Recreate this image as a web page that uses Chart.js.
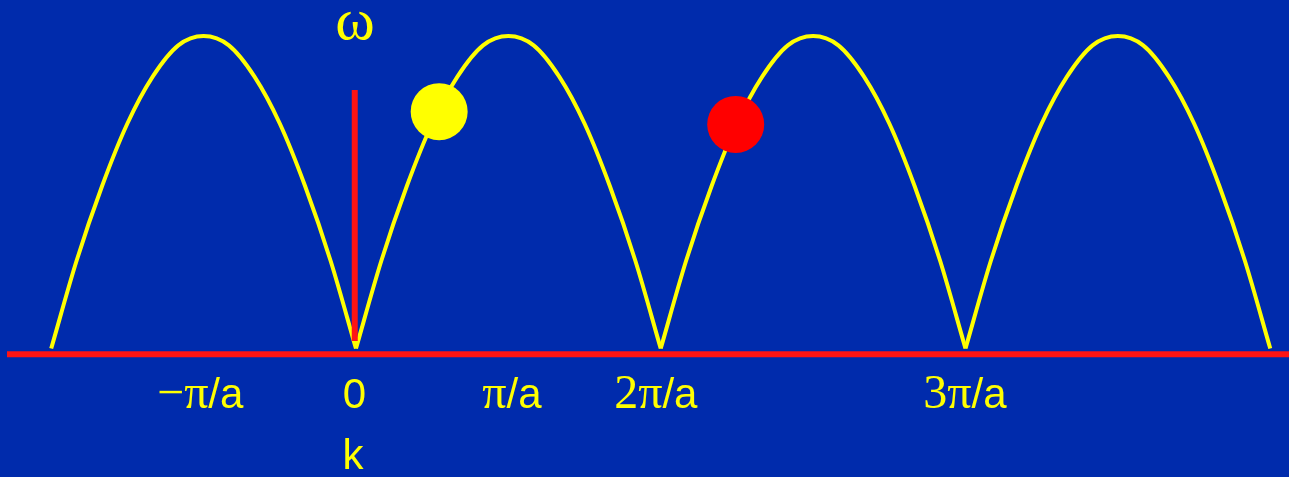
<!DOCTYPE html>
<html lang="en"><head><meta charset="UTF-8">
<title>Phonon dispersion – extended zone</title>
<script src="https://cdn.jsdelivr.net/npm/chart.js@4.4.1/dist/chart.umd.min.js"></script>
<style>
*{box-sizing:border-box;margin:0;padding:0;}
html,body{width:1289px;height:477px;overflow:hidden;background:#002BAC;}
.wrap{position:relative;width:1289px;height:477px;}
</style></head>
<body><div class="wrap"><canvas id="disp" width="1289" height="477"></canvas></div>
<script>
// ── data (k in units of the arch period, omega as fraction of omega_max) ──
const archStarts = [-1, 0, 1, 2];
const archT      = [0, 0.083, 0.167, 0.25, 0.333, 0.417, 0.5, 0.583, 0.667, 0.75, 0.833, 0.917, 1];
const archOmega  = [0, 0.28, 0.52, 0.72, 0.87, 0.97, 1, 0.97, 0.87, 0.72, 0.52, 0.28, 0];
const kAxisLine  = [{x: -1.145, y: -0.018}, {x: 3.1, y: -0.018}];
const wAxisLine  = [{x: -0.004, y: 0.024}, {x: -0.004, y: 0.827}];
const yellowAtom = [{x: 0.273, y: 0.758}];
const redAtom    = [{x: 1.246, y: 0.717}];

// label runs: [text, font]  x = k position, y = omega position (baseline)
const tickLabels = [
  {x: -0.511, y: -0.19, runs: [['\u2212', 1], ['\u03c0', 1], ['/a', 0]]},
  {x: -0.005, y: -0.19, runs: [['0', 0]]},
  {x:  0.512, y: -0.19, runs: [['\u03c0', 1], ['/a', 0]]},
  {x:  0.984, y: -0.19, runs: [['2', 1], ['\u03c0', 1], ['/a', 0]]},
  {x:  1.998, y: -0.19, runs: [['3', 1], ['\u03c0', 1], ['/a', 0]]},
];
const axisNames = [
  {x: -0.010, y: -0.385, runs: [['k', 0]]},
  {x: -0.003, y:  0.99, runs: [['\u03c9', 2]]},
];

const YEL = '#FFFF00', RED = '#FF1414';

const arches = archStarts.map(k0 => ({
  data: archT.map((t, i) => ({x: k0 + t, y: archOmega[i]})),
  borderColor: YEL, borderWidth: 4, pointRadius: 0,
  cubicInterpolationMode: 'monotone'
}));

const FONTS = ['42px "Liberation Sans", Arial, sans-serif',
               '48px "Times New Roman", "Liberation Serif", "DejaVu Serif", serif',
               '60px "Times New Roman", "Liberation Serif", "DejaVu Serif", serif'];

const labelPlugin = {
  id: 'labels',
  afterDraw(chart) {
    const {ctx, scales: {x, y}} = chart;
    ctx.save();
    ctx.fillStyle = YEL;
    ctx.textBaseline = 'alphabetic';
    ctx.textAlign = 'left';
    for (const l of tickLabels.concat(axisNames)) {
      let w = 0;
      for (const [s, f] of l.runs) { ctx.font = FONTS[f]; w += ctx.measureText(s).width; }
      let px = x.getPixelForValue(l.x) - w / 2;
      const py = y.getPixelForValue(l.y);
      for (const [s, f] of l.runs) {
        ctx.font = FONTS[f];
        ctx.fillText(s, px, py);
        px += ctx.measureText(s).width;
      }
    }
    ctx.restore();
  }
};

new Chart(document.getElementById('disp'), {
  type: 'line',
  data: {
    datasets: [
      {data: yellowAtom, showLine: false, pointRadius: 28.5, pointBackgroundColor: YEL, pointBorderWidth: 0},
      {data: redAtom,    showLine: false, pointRadius: 28.5, pointBackgroundColor: '#FF0000', pointBorderWidth: 0},
      {data: wAxisLine, borderColor: RED, borderWidth: 6, pointRadius: 0, borderCapStyle: 'butt'},
      {data: kAxisLine, borderColor: RED, borderWidth: 6, pointRadius: 0, borderCapStyle: 'butt'},
      ...arches
    ]
  },
  options: {
    responsive: false, animation: false, events: [],
    layout: {padding: 0, autoPadding: false},
    plugins: {legend: {display: false}, tooltip: {enabled: false}},
    scales: {
      x: {type: 'linear', min: -1.168, max: 3.0615, display: false},
      y: {type: 'linear', min: -0.4112, max: 1.1152, display: false}
    }
  },
  plugins: [labelPlugin]
});
</script>
</body></html>
